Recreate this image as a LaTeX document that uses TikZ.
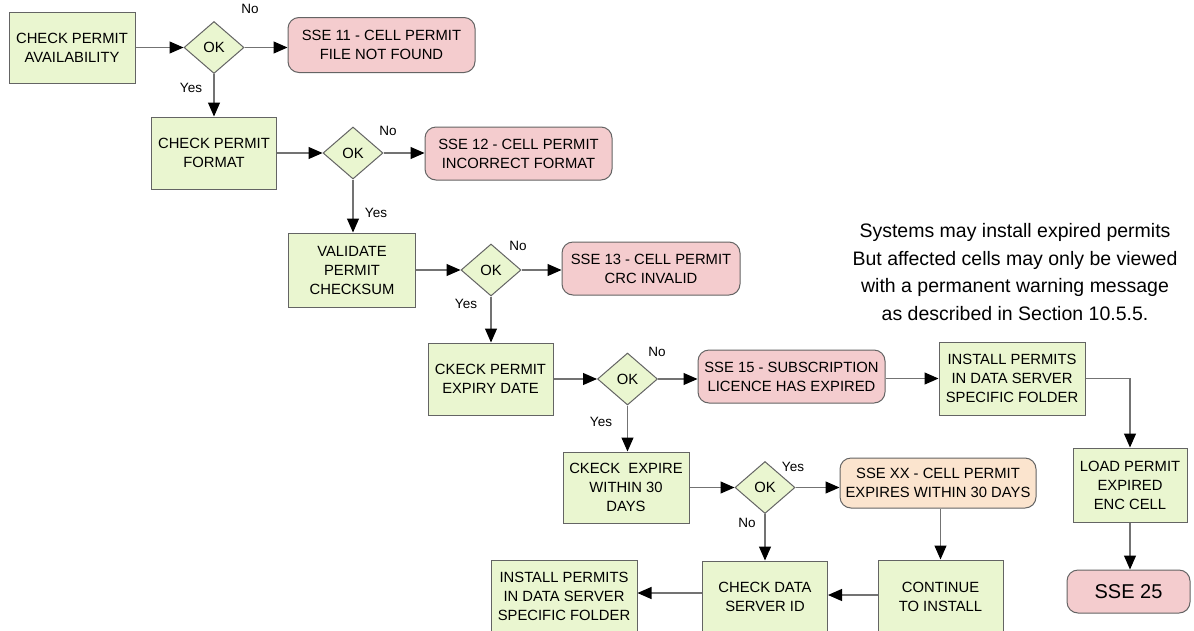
\documentclass[tikz,border=0pt]{standalone}
\usepackage{fontspec}
\setmainfont{Liberation Sans}
\usetikzlibrary{arrows.meta,shapes.geometric}
\definecolor{boxgreen}{RGB}{234,246,208}
\definecolor{boxpink}{RGB}{244,204,206}
\definecolor{boxorange}{RGB}{251,228,206}
\definecolor{edgegray}{RGB}{100,100,100}
\definecolor{linegray}{RGB}{115,115,115}
\tikzset{
  stepbox/.style={draw=edgegray, line width=1pt, fill=boxgreen, rectangle, align=center,
    inner sep=2pt, font=\fontsize{14.8}{19}\selectfont},
  errbox/.style={draw=edgegray, line width=1pt, fill=boxpink, rectangle, rounded corners=11pt,
    align=center, inner sep=2pt, font=\fontsize{14.8}{19}\selectfont},
  warnbox/.style={errbox, fill=boxorange},
  okdia/.style={draw=edgegray, line width=1pt, fill=boxgreen, diamond, inner sep=0pt,
    minimum width=60pt, minimum height=52pt, font=\fontsize{14.8}{19}\selectfont},
  flow/.style={draw=linegray, line width=1.1pt,
    -{Triangle[length=14pt,width=12pt,color=black]}},
  lbl/.style={font=\fontsize{13.5}{16}\selectfont, inner sep=0pt},
}
\begin{document}
\begin{tikzpicture}[x=1pt,y=-1pt]
\clip (0,0) rectangle (1194,630);
\fill[white] (0,0) rectangle (1194,630);
% row 1
\node[stepbox, minimum width=126pt, minimum height=71pt] (b1) at (72,47.5) {CHECK PERMIT\\AVAILABILITY};
\node[okdia] (d1) at (214,47.5) {OK};
\node[errbox, minimum width=187pt, minimum height=55pt] (s11) at (381.5,45) {SSE 11 - CELL PERMIT\\FILE NOT FOUND};
% row 2
\node[stepbox, minimum width=125pt, minimum height=72pt] (b2) at (214,153) {CHECK PERMIT\\FORMAT};
\node[okdia] (d2) at (353,153) {OK};
\node[errbox, minimum width=187pt, minimum height=53pt] (s12) at (518.5,153.5) {SSE 12 - CELL PERMIT\\INCORRECT FORMAT};
% row 3
\node[stepbox, minimum width=127pt, minimum height=74pt] (b3) at (352,270) {VALIDATE\\PERMIT\\CHECKSUM};
\node[okdia] (d3) at (491,270) {OK};
\node[errbox, minimum width=178pt, minimum height=53pt] (s13) at (651,268.5) {SSE 13 - CELL PERMIT\\CRC INVALID};
% row 4
\node[stepbox, minimum width=125pt, minimum height=72pt] (b4) at (490.5,379) {CKECK PERMIT\\EXPIRY DATE};
\node[okdia] (d4) at (627.5,379) {OK};
\node[errbox, minimum width=187pt, minimum height=53pt] (s15) at (791.5,376.5) {SSE 15 - SUBSCRIPTION\\LICENCE HAS EXPIRED};
\node[stepbox, minimum width=146pt, minimum height=73pt] (i1) at (1012,378.5) {INSTALL PERMITS\\IN DATA SERVER\\SPECIFIC FOLDER};
\node[stepbox, minimum width=114pt, minimum height=74pt] (lp) at (1130,485) {LOAD PERMIT\\EXPIRED\\ENC CELL};
\node[errbox, minimum width=123pt, minimum height=43pt, font=\fontsize{20}{22}\selectfont] (s25) at (1128.5,591.5) {SSE 25};
% row 5
\node[stepbox, minimum width=126pt, minimum height=71pt] (b5) at (626,487.5) {CKECK\ \ EXPIRE\\WITHIN 30\\DAYS};
\node[okdia] (d5) at (765,487.5) {OK};
\node[warnbox, minimum width=196pt, minimum height=50pt] (sxx) at (938,483) {SSE XX - CELL PERMIT\\EXPIRES WITHIN 30 DAYS};
% row 6
\node[stepbox, minimum width=125pt, minimum height=72pt] (cd) at (765,597) {CHECK DATA\\SERVER ID};
\node[stepbox, minimum width=125pt, minimum height=73pt] (ct) at (940.5,596.5) {CONTINUE\\TO INSTALL};
\node[stepbox, minimum width=146pt, minimum height=73pt] (i2) at (564,596.5) {INSTALL PERMITS\\IN DATA SERVER\\SPECIFIC FOLDER};
% note
\node[align=center, font=\fontsize{19.5}{27.5}\selectfont, inner sep=0pt] (note) at (1015,272)
  {Systems may install expired permits\\But affected cells may only be viewed\\with a permanent warning message\\as described in Section 10.5.5.};
% connectors
\draw[flow] (b1.east) -- (d1.west);
\draw[flow] (d1.east) -- (d1.east -| s11.west);
\draw[flow] (d1.south) -- (b2.north);
\draw[flow] (b2.east) -- (d2.west);
\draw[flow] (d2.east) -- (d2.east -| s12.west);
\draw[flow] (d2.south) -- (d2.south |- b3.north);
\draw[flow] (b3.east) -- (d3.west);
\draw[flow] (d3.east) -- (d3.east -| s13.west);
\draw[flow] (d3.south) -- (d3.south |- b4.north);
\draw[flow] (b4.east) -- (d4.west);
\draw[flow] (d4.east) -- (d4.east -| s15.west);
\draw[flow] (s15.east |- i1.west) -- (i1.west);
\draw[flow] (i1.east) -| (lp.north);
\draw[flow] (lp.south) -- (lp.south |- s25.north);
\draw[flow] (d4.south) -- (d4.south |- b5.north);
\draw[flow] (b5.east) -- (d5.west);
\draw[flow] (d5.east) -- (d5.east -| sxx.west);
\draw[flow] (d5.south) -- (cd.north);
\draw[flow] (sxx.south -| ct.north) -- (ct.north);
\draw[flow] (ct.west |- 0,595) -- (cd.east |- 0,595);
\draw[flow] (cd.west |- 0,593) -- (i2.east |- 0,593);
% yes / no labels
\node[lbl] (n1) at (250,9) {No};
\node[lbl] (y1) at (191,88) {Yes};
\node[lbl] (n2) at (388,131) {No};
\node[lbl] (y2) at (376,213) {Yes};
\node[lbl] (n3) at (518,246) {No};
\node[lbl] (y3) at (466,304) {Yes};
\node[lbl] (n4) at (657,352) {No};
\node[lbl] (y4) at (601,422) {Yes};
\node[lbl] (y5) at (793,467) {Yes};
\node[lbl] (n5) at (747,523) {No};
\end{tikzpicture}
\end{document}
